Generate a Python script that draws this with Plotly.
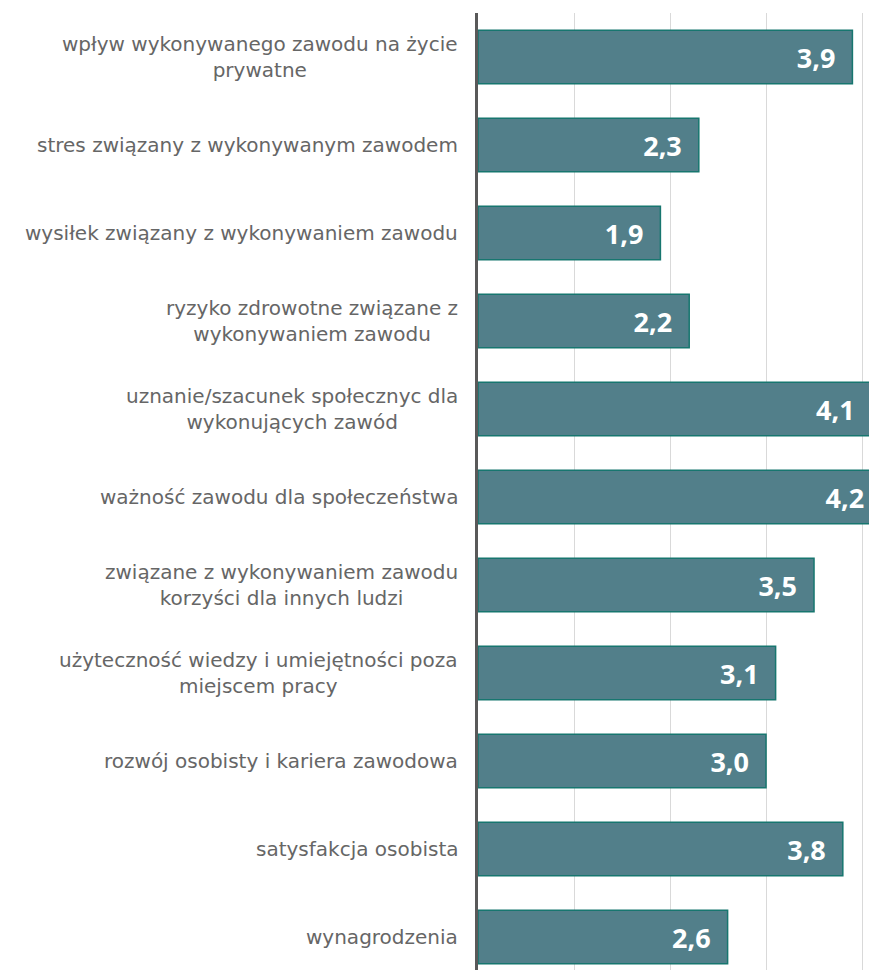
import plotly.graph_objects as go

categories = [
    "wpływ wykonywanego zawodu na życie<br>prywatne",
    "stres związany z wykonywanym zawodem",
    "wysiłek związany z wykonywaniem zawodu",
    "ryzyko zdrowotne związane z<br>wykonywaniem zawodu",
    "uznanie/szacunek społecznyc dla<br>wykonujących zawód",
    "ważność zawodu dla społeczeństwa",
    "związane z wykonywaniem zawodu<br>korzyści dla innych ludzi",
    "użyteczność wiedzy i umiejętności poza<br>miejscem pracy",
    "rozwój osobisty i kariera zawodowa",
    "satysfakcja osobista",
    "wynagrodzenia",
]
values = [3.9, 2.3, 1.9, 2.2, 4.1, 4.2, 3.5, 3.1, 3.0, 3.8, 2.6]
value_labels = [f"{v:.1f}".replace(".", ",") for v in values]

fig = go.Figure()
fig.add_trace(go.Bar(
    y=list(range(len(categories))),
    x=values,
    orientation="h",
    marker=dict(color="#527F8A", line=dict(color="#17766F", width=1.5)),
    text=[t + "\u00a0\u00a0" for t in value_labels],
    textposition="inside",
    insidetextanchor="end",
    textangle=0,
    constraintext="none",
    insidetextfont=dict(color="white", size=27, family="Open Sans", weight="bold"),
    hoverinfo="skip",
))

for i, c in enumerate(categories):
    fig.add_annotation(
        x=0, xref="paper", y=i, yref="y",
        text=c, showarrow=False, xanchor="right", yanchor="middle",
        align="center", xshift=-18,
        font=dict(family="DejaVu Sans", size=20, color="#666666"),
    )

fig.update_layout(
    width=869, height=962,
    margin=dict(l=470, r=0, t=5, b=0),
    plot_bgcolor="white", paper_bgcolor="white",
    bargap=0.39,
    showlegend=False,
)
fig.update_xaxes(
    range=[0, 4.156], dtick=1, showgrid=True, gridcolor="#D9D9D9", gridwidth=1,
    showticklabels=False, zeroline=False, showline=False,
)
fig.update_yaxes(
    range=[10.375, -0.5], showticklabels=False, showgrid=False, zeroline=False,
    showline=True, linecolor="#595959", linewidth=3,
)

fig.write_html("out.html")
